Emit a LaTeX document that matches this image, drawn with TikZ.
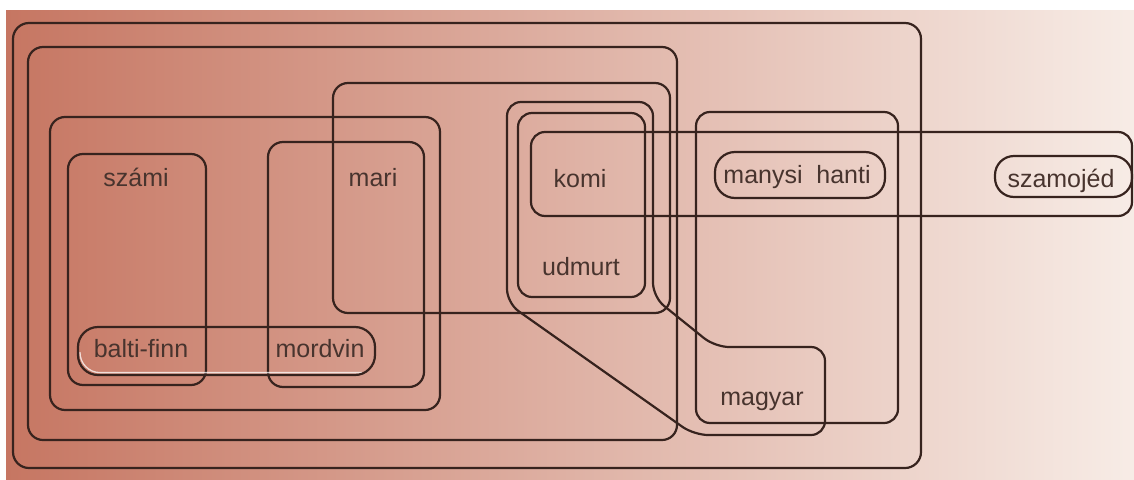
\documentclass[tikz,border=0pt]{standalone}
\usepackage{fontspec}
\setmainfont{Liberation Sans}
\definecolor{bgL}{RGB}{198,118,98}
\definecolor{bgM}{RGB}{224,168,150}
\definecolor{bgR}{RGB}{247,236,230}
\definecolor{ink}{RGB}{55,35,30}
\definecolor{txt}{RGB}{72,52,46}
\begin{document}
\begin{tikzpicture}[x=1pt,y=-1pt,
  set/.style={draw=ink,line width=2.2pt,rounded corners=15pt},
  lbl/.style={text=txt,font=\fontsize{25}{30}\selectfont,inner sep=0pt,anchor=base}]
\useasboundingbox (0,0) rectangle (1134,479);
% paper and shaded background
\fill[white] (0,0) rectangle (1134,479);
\shade[left color=bgL,middle color=bgM,right color=bgR] (6,10) rectangle (1134,479);

% nested groups, outermost first
\draw[set,rounded corners=16pt] (13,23) rectangle (921,468);
\draw[set] (28,47) rectangle (677,440);
\draw[set] (50,117) rectangle (440,410);
\draw[set] (68,154) rectangle (206,385);
\draw[set] (268,142) rectangle (424,387);
\draw[set] (333,83) rectangle (670,313);

% permian group reaching down to the hungarian box
\draw[set,rounded corners=14pt] (507,102) -- (653,102) -- (653,297) -- (715,347)
  -- (825,347) -- (825,435) -- (694,435) -- (507,303) -- cycle;
\draw[set,rounded corners=14pt] (518,113) rectangle (645,297);
\draw[set,rounded corners=14pt] (531,132) rectangle (1132,216);

% ugric group
\draw[set,rounded corners=14pt] (696,112) rectangle (898,423);

% single-language capsules
\draw[white,line width=1.3pt,opacity=.75,rounded corners=20pt] (80,352) -- (80,372.6) -- (362,372.6);
\draw[set,rounded corners=20pt] (78,327) rectangle (375,375);
\draw[set,rounded corners=20pt] (715,152) rectangle (885,198);
\draw[set,rounded corners=19pt] (995,156) rectangle (1132,197);

% language names
\node[lbl] (szami)    at (136,186) {számi};
\node[lbl] (mari)     at (373,186) {mari};
\node[lbl] (komi)     at (580,187) {komi};
\node[lbl] (udmurt)   at (581,275) {udmurt};
\node[lbl] (obugor)   at (797,183) {manysi\hspace{0.55em}hanti};
\node[lbl] (szamojed) at (1061,187) {szamojéd};
\node[lbl] (magyar)   at (762,405) {magyar};
\node[lbl] (baltifinn) at (141,357) {balti-finn};
\node[lbl] (mordvin)  at (320,357) {mordvin};
\end{tikzpicture}
\end{document}
